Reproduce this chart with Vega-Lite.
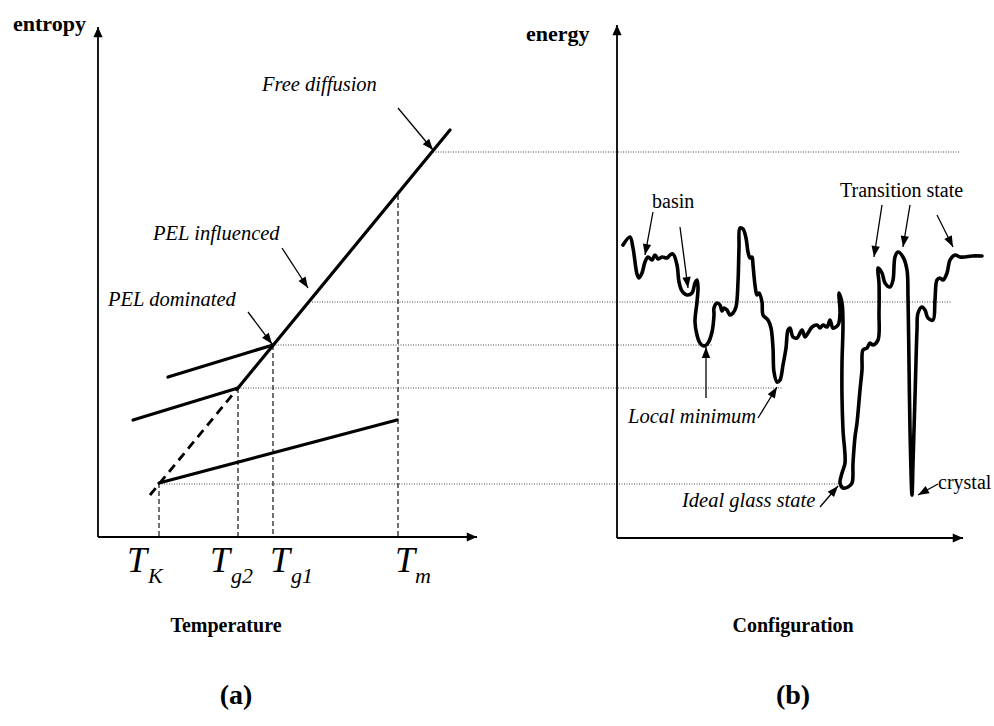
{
  "$schema": "https://vega.github.io/schema/vega-lite/v6.json",
  "width": 994,
  "height": 726,
  "autosize": {"type": "none"},
  "padding": 0,
  "background": "white",
  "config": {"view": {"stroke": null}},
  "datasets": {
    "axes": [
      {"x": 98, "y": 537, "x2": 98, "y2": 27},
      {"x": 98, "y": 537, "x2": 477, "y2": 537},
      {"x": 617, "y": 538, "x2": 617, "y2": 25},
      {"x": 617, "y": 538, "x2": 963, "y2": 538}
    ],
    "arrows": [
      {"x": 398, "y": 108, "x2": 433, "y2": 150},
      {"x": 282, "y": 248, "x2": 308, "y2": 288},
      {"x": 248, "y": 312, "x2": 272, "y2": 344},
      {"x": 653, "y": 212, "x2": 645, "y2": 255},
      {"x": 680, "y": 227, "x2": 688, "y2": 288},
      {"x": 706, "y": 398, "x2": 706, "y2": 347},
      {"x": 758, "y": 418, "x2": 777, "y2": 387},
      {"x": 820, "y": 507, "x2": 838, "y2": 486},
      {"x": 938, "y": 484, "x2": 918, "y2": 495},
      {"x": 882, "y": 205, "x2": 874, "y2": 257},
      {"x": 910, "y": 205, "x2": 903, "y2": 247},
      {"x": 937, "y": 215, "x2": 953, "y2": 247}
    ],
    "thick": [
      {"x": 238, "y": 388, "x2": 450, "y2": 130},
      {"x": 168, "y": 377, "x2": 273, "y2": 345},
      {"x": 133, "y": 420, "x2": 238, "y2": 388},
      {"x": 159, "y": 483, "x2": 397, "y2": 420}
    ],
    "thickDashed": [
      {"x": 150, "y": 495, "x2": 238, "y2": 388}
    ],
    "vdash": [
      {"x": 159, "y": 483, "x2": 159, "y2": 537},
      {"x": 238, "y": 388, "x2": 238, "y2": 537},
      {"x": 273, "y": 345, "x2": 273, "y2": 537},
      {"x": 398, "y": 195, "x2": 398, "y2": 537}
    ],
    "dotted": [
      {"x": 433, "y": 152, "x2": 960, "y2": 152},
      {"x": 312, "y": 302, "x2": 952, "y2": 302},
      {"x": 273, "y": 345, "x2": 712, "y2": 345},
      {"x": 238, "y": 388, "x2": 783, "y2": 388},
      {"x": 159, "y": 484, "x2": 838, "y2": 484}
    ],
    "curve": [
      {"i": 1, "x": 623, "y": 245}, {"i": 2, "x": 630, "y": 237}, {"i": 3, "x": 633, "y": 248},
      {"i": 4, "x": 637, "y": 274}, {"i": 5, "x": 639, "y": 278}, {"i": 6, "x": 642, "y": 273},
      {"i": 7, "x": 645, "y": 262}, {"i": 8, "x": 648, "y": 257}, {"i": 9, "x": 652, "y": 260},
      {"i": 10, "x": 655, "y": 255}, {"i": 11, "x": 658, "y": 259}, {"i": 12, "x": 662, "y": 257},
      {"i": 13, "x": 667, "y": 258}, {"i": 14, "x": 670, "y": 255}, {"i": 15, "x": 673, "y": 254},
      {"i": 16, "x": 677, "y": 265}, {"i": 17, "x": 679, "y": 282}, {"i": 18, "x": 682, "y": 291},
      {"i": 19, "x": 687, "y": 295}, {"i": 20, "x": 692, "y": 293}, {"i": 21, "x": 695, "y": 283},
      {"i": 22, "x": 697, "y": 280}, {"i": 23, "x": 698, "y": 287}, {"i": 24, "x": 697, "y": 302},
      {"i": 25, "x": 695, "y": 322}, {"i": 26, "x": 697, "y": 335}, {"i": 27, "x": 700, "y": 343},
      {"i": 28, "x": 704, "y": 346}, {"i": 29, "x": 708, "y": 343}, {"i": 30, "x": 712, "y": 332},
      {"i": 31, "x": 714, "y": 315}, {"i": 32, "x": 714, "y": 308}, {"i": 33, "x": 717, "y": 303},
      {"i": 34, "x": 720, "y": 305}, {"i": 35, "x": 722, "y": 311}, {"i": 36, "x": 724, "y": 308},
      {"i": 37, "x": 727, "y": 310}, {"i": 38, "x": 730, "y": 315}, {"i": 39, "x": 733, "y": 313},
      {"i": 40, "x": 736, "y": 307}, {"i": 41, "x": 738, "y": 282}, {"i": 42, "x": 739, "y": 248},
      {"i": 43, "x": 740, "y": 228}, {"i": 44, "x": 743, "y": 229}, {"i": 45, "x": 746, "y": 238},
      {"i": 46, "x": 748, "y": 252}, {"i": 47, "x": 750, "y": 258}, {"i": 48, "x": 752, "y": 257},
      {"i": 49, "x": 753, "y": 265}, {"i": 50, "x": 755, "y": 285}, {"i": 51, "x": 757, "y": 295},
      {"i": 52, "x": 759, "y": 293}, {"i": 53, "x": 762, "y": 302}, {"i": 54, "x": 763, "y": 315},
      {"i": 55, "x": 768, "y": 320}, {"i": 56, "x": 771, "y": 328}, {"i": 57, "x": 773, "y": 348},
      {"i": 58, "x": 774, "y": 372}, {"i": 59, "x": 777, "y": 382}, {"i": 60, "x": 780, "y": 380},
      {"i": 61, "x": 783, "y": 365}, {"i": 62, "x": 786, "y": 348}, {"i": 63, "x": 788, "y": 330},
      {"i": 64, "x": 790, "y": 328}, {"i": 65, "x": 793, "y": 337}, {"i": 66, "x": 797, "y": 338},
      {"i": 67, "x": 802, "y": 330}, {"i": 68, "x": 805, "y": 337}, {"i": 69, "x": 808, "y": 333},
      {"i": 70, "x": 812, "y": 327}, {"i": 71, "x": 817, "y": 325}, {"i": 72, "x": 820, "y": 328},
      {"i": 73, "x": 823, "y": 325}, {"i": 74, "x": 827, "y": 327}, {"i": 75, "x": 830, "y": 320},
      {"i": 76, "x": 833, "y": 328}, {"i": 77, "x": 838, "y": 325}, {"i": 78, "x": 840, "y": 313},
      {"i": 79, "x": 839, "y": 293}, {"i": 80, "x": 842, "y": 303}, {"i": 81, "x": 843, "y": 323},
      {"i": 82, "x": 842, "y": 363}, {"i": 83, "x": 842, "y": 397}, {"i": 84, "x": 843, "y": 430},
      {"i": 85, "x": 845, "y": 463}, {"i": 86, "x": 842, "y": 473}, {"i": 87, "x": 840, "y": 483},
      {"i": 88, "x": 843, "y": 488}, {"i": 89, "x": 848, "y": 487}, {"i": 90, "x": 852, "y": 483},
      {"i": 91, "x": 853, "y": 463}, {"i": 92, "x": 855, "y": 437}, {"i": 93, "x": 857, "y": 423},
      {"i": 94, "x": 860, "y": 390}, {"i": 95, "x": 862, "y": 370}, {"i": 96, "x": 863, "y": 350},
      {"i": 97, "x": 867, "y": 348}, {"i": 98, "x": 870, "y": 343}, {"i": 99, "x": 873, "y": 345},
      {"i": 100, "x": 878, "y": 340}, {"i": 101, "x": 879, "y": 313}, {"i": 102, "x": 879, "y": 283},
      {"i": 103, "x": 878, "y": 268}, {"i": 104, "x": 882, "y": 273}, {"i": 105, "x": 885, "y": 283},
      {"i": 106, "x": 890, "y": 287}, {"i": 107, "x": 893, "y": 280}, {"i": 108, "x": 895, "y": 257},
      {"i": 109, "x": 898, "y": 252}, {"i": 110, "x": 903, "y": 257}, {"i": 111, "x": 907, "y": 270},
      {"i": 112, "x": 908, "y": 297}, {"i": 113, "x": 909, "y": 363}, {"i": 114, "x": 910, "y": 430},
      {"i": 115, "x": 912, "y": 495}, {"i": 116, "x": 913, "y": 463}, {"i": 117, "x": 915, "y": 397},
      {"i": 118, "x": 917, "y": 330}, {"i": 119, "x": 918, "y": 313}, {"i": 120, "x": 922, "y": 307},
      {"i": 121, "x": 925, "y": 310}, {"i": 122, "x": 928, "y": 318}, {"i": 123, "x": 933, "y": 320},
      {"i": 124, "x": 935, "y": 300}, {"i": 125, "x": 937, "y": 280}, {"i": 126, "x": 940, "y": 278},
      {"i": 127, "x": 943, "y": 280}, {"i": 128, "x": 947, "y": 273}, {"i": 129, "x": 950, "y": 260},
      {"i": 130, "x": 955, "y": 255}, {"i": 131, "x": 960, "y": 257}, {"i": 132, "x": 965, "y": 257},
      {"i": 133, "x": 972, "y": 256}, {"i": 134, "x": 982, "y": 256}
    ],
    "boldLabels": [
      {"x": 13, "y": 31, "label": "entropy"},
      {"x": 526, "y": 41, "label": "energy"}
    ],
    "italicLabels": [
      {"x": 262, "y": 91, "label": "Free diffusion"},
      {"x": 153, "y": 240, "label": "PEL influenced"},
      {"x": 108, "y": 306, "label": "PEL dominated"},
      {"x": 628, "y": 423, "label": "Local minimum"},
      {"x": 682, "y": 507, "label": "Ideal glass state"}
    ],
    "romanLabels": [
      {"x": 652, "y": 208, "label": "basin"},
      {"x": 840, "y": 197, "label": "Transition state"},
      {"x": 938, "y": 489, "label": "crystal"}
    ],
    "titles": [
      {"x": 226, "y": 632, "label": "Temperature"},
      {"x": 793, "y": 632, "label": "Configuration"}
    ],
    "panels": [
      {"x": 236, "y": 704, "label": "(a)"},
      {"x": 793, "y": 704, "label": "(b)"}
    ],
    "tMain": [
      {"x": 127, "y": 572, "label": "T"},
      {"x": 210, "y": 572, "label": "T"},
      {"x": 270, "y": 572, "label": "T"},
      {"x": 395, "y": 572, "label": "T"}
    ],
    "tSub": [
      {"x": 148, "y": 583, "label": "K"},
      {"x": 231, "y": 583, "label": "g2"},
      {"x": 291, "y": 583, "label": "g1"},
      {"x": 415, "y": 583, "label": "m"}
    ]
  },
  "layer": [
    {
      "data": {"name": "dotted"},
      "mark": {"type": "rule", "color": "#444", "strokeWidth": 1, "strokeDash": [1, 1.5]},
      "encoding": {
        "x": {"field": "x", "type": "quantitative", "scale": {"domain": [0, 994], "nice": false, "zero": false}, "axis": null},
        "y": {"field": "y", "type": "quantitative", "scale": {"domain": [0, 726], "reverse": true, "nice": false, "zero": false}, "axis": null},
        "x2": {"field": "x2"},
        "y2": {"field": "y2"}
      }
    },
    {
      "data": {"name": "vdash"},
      "mark": {"type": "rule", "color": "#222", "strokeWidth": 1.3, "strokeDash": [5, 3]},
      "encoding": {
        "x": {"field": "x", "type": "quantitative", "scale": {"domain": [0, 994], "nice": false, "zero": false}, "axis": null},
        "y": {"field": "y", "type": "quantitative", "scale": {"domain": [0, 726], "reverse": true, "nice": false, "zero": false}, "axis": null},
        "x2": {"field": "x2"},
        "y2": {"field": "y2"}
      }
    },
    {
      "data": {"name": "thick"},
      "mark": {"type": "rule", "color": "black", "strokeWidth": 3.2, "strokeCap": "round"},
      "encoding": {
        "x": {"field": "x", "type": "quantitative", "scale": {"domain": [0, 994], "nice": false, "zero": false}, "axis": null},
        "y": {"field": "y", "type": "quantitative", "scale": {"domain": [0, 726], "reverse": true, "nice": false, "zero": false}, "axis": null},
        "x2": {"field": "x2"},
        "y2": {"field": "y2"}
      }
    },
    {
      "data": {"name": "thickDashed"},
      "mark": {"type": "rule", "color": "black", "strokeWidth": 2.8, "strokeDash": [9, 6]},
      "encoding": {
        "x": {"field": "x", "type": "quantitative", "scale": {"domain": [0, 994], "nice": false, "zero": false}, "axis": null},
        "y": {"field": "y", "type": "quantitative", "scale": {"domain": [0, 726], "reverse": true, "nice": false, "zero": false}, "axis": null},
        "x2": {"field": "x2"},
        "y2": {"field": "y2"}
      }
    },
    {
      "data": {"name": "axes"},
      "mark": {"type": "rule", "color": "black", "strokeWidth": 1.8},
      "encoding": {
        "x": {"field": "x", "type": "quantitative", "scale": {"domain": [0, 994], "nice": false, "zero": false}, "axis": null},
        "y": {"field": "y", "type": "quantitative", "scale": {"domain": [0, 726], "reverse": true, "nice": false, "zero": false}, "axis": null},
        "x2": {"field": "x2"},
        "y2": {"field": "y2"}
      }
    },
    {
      "data": {"name": "axes"},
      "transform": [{"calculate": "atan2(datum.x2 - datum.x, datum.y - datum.y2) * 180 / PI", "as": "angle"}],
      "mark": {"type": "point", "shape": "M0,0L-0.45,1L0.45,1Z", "filled": true, "opacity": 1, "color": "black", "size": 420},
      "encoding": {
        "x": {"field": "x2", "type": "quantitative", "scale": {"domain": [0, 994], "nice": false, "zero": false}, "axis": null},
        "y": {"field": "y2", "type": "quantitative", "scale": {"domain": [0, 726], "reverse": true, "nice": false, "zero": false}, "axis": null},
        "angle": {"field": "angle", "type": "quantitative", "scale": null}
      }
    },
    {
      "data": {"name": "arrows"},
      "mark": {"type": "rule", "color": "black", "strokeWidth": 1.3},
      "encoding": {
        "x": {"field": "x", "type": "quantitative", "scale": {"domain": [0, 994], "nice": false, "zero": false}, "axis": null},
        "y": {"field": "y", "type": "quantitative", "scale": {"domain": [0, 726], "reverse": true, "nice": false, "zero": false}, "axis": null},
        "x2": {"field": "x2"},
        "y2": {"field": "y2"}
      }
    },
    {
      "data": {"name": "arrows"},
      "transform": [{"calculate": "atan2(datum.x2 - datum.x, datum.y - datum.y2) * 180 / PI", "as": "angle"}],
      "mark": {"type": "point", "shape": "M0,0L-0.38,1L0.38,1Z", "filled": true, "opacity": 1, "color": "black", "size": 484},
      "encoding": {
        "x": {"field": "x2", "type": "quantitative", "scale": {"domain": [0, 994], "nice": false, "zero": false}, "axis": null},
        "y": {"field": "y2", "type": "quantitative", "scale": {"domain": [0, 726], "reverse": true, "nice": false, "zero": false}, "axis": null},
        "angle": {"field": "angle", "type": "quantitative", "scale": null}
      }
    },
    {
      "data": {"name": "curve"},
      "mark": {"type": "line", "color": "black", "strokeWidth": 3.6, "strokeJoin": "round", "strokeCap": "round", "interpolate": "catmull-rom"},
      "encoding": {
        "x": {"field": "x", "type": "quantitative", "scale": {"domain": [0, 994], "nice": false, "zero": false}, "axis": null},
        "y": {"field": "y", "type": "quantitative", "scale": {"domain": [0, 726], "reverse": true, "nice": false, "zero": false}, "axis": null},
        "order": {"field": "i", "type": "quantitative"}
      }
    },
    {
      "data": {"name": "boldLabels"},
      "mark": {"type": "text", "font": "Liberation Serif", "fontWeight": "bold", "fontSize": 22, "align": "left", "baseline": "alphabetic", "color": "black"},
      "encoding": {
        "x": {"field": "x", "type": "quantitative", "scale": {"domain": [0, 994], "nice": false, "zero": false}, "axis": null},
        "y": {"field": "y", "type": "quantitative", "scale": {"domain": [0, 726], "reverse": true, "nice": false, "zero": false}, "axis": null},
        "text": {"field": "label"}
      }
    },
    {
      "data": {"name": "italicLabels"},
      "mark": {"type": "text", "font": "Liberation Serif", "fontStyle": "italic", "fontSize": 20.5, "align": "left", "baseline": "alphabetic", "color": "black"},
      "encoding": {
        "x": {"field": "x", "type": "quantitative", "scale": {"domain": [0, 994], "nice": false, "zero": false}, "axis": null},
        "y": {"field": "y", "type": "quantitative", "scale": {"domain": [0, 726], "reverse": true, "nice": false, "zero": false}, "axis": null},
        "text": {"field": "label"}
      }
    },
    {
      "data": {"name": "romanLabels"},
      "mark": {"type": "text", "font": "Liberation Serif", "fontSize": 20, "align": "left", "baseline": "alphabetic", "color": "black"},
      "encoding": {
        "x": {"field": "x", "type": "quantitative", "scale": {"domain": [0, 994], "nice": false, "zero": false}, "axis": null},
        "y": {"field": "y", "type": "quantitative", "scale": {"domain": [0, 726], "reverse": true, "nice": false, "zero": false}, "axis": null},
        "text": {"field": "label"}
      }
    },
    {
      "data": {"name": "titles"},
      "mark": {"type": "text", "font": "Liberation Serif", "fontWeight": "bold", "fontSize": 20, "align": "center", "baseline": "alphabetic", "color": "black"},
      "encoding": {
        "x": {"field": "x", "type": "quantitative", "scale": {"domain": [0, 994], "nice": false, "zero": false}, "axis": null},
        "y": {"field": "y", "type": "quantitative", "scale": {"domain": [0, 726], "reverse": true, "nice": false, "zero": false}, "axis": null},
        "text": {"field": "label"}
      }
    },
    {
      "data": {"name": "panels"},
      "mark": {"type": "text", "font": "Liberation Serif", "fontWeight": "bold", "fontSize": 28, "align": "center", "baseline": "alphabetic", "color": "black"},
      "encoding": {
        "x": {"field": "x", "type": "quantitative", "scale": {"domain": [0, 994], "nice": false, "zero": false}, "axis": null},
        "y": {"field": "y", "type": "quantitative", "scale": {"domain": [0, 726], "reverse": true, "nice": false, "zero": false}, "axis": null},
        "text": {"field": "label"}
      }
    },
    {
      "data": {"name": "tMain"},
      "mark": {"type": "text", "font": "Liberation Serif", "fontStyle": "italic", "fontSize": 36, "align": "left", "baseline": "alphabetic", "color": "black"},
      "encoding": {
        "x": {"field": "x", "type": "quantitative", "scale": {"domain": [0, 994], "nice": false, "zero": false}, "axis": null},
        "y": {"field": "y", "type": "quantitative", "scale": {"domain": [0, 726], "reverse": true, "nice": false, "zero": false}, "axis": null},
        "text": {"field": "label"}
      }
    },
    {
      "data": {"name": "tSub"},
      "mark": {"type": "text", "font": "Liberation Serif", "fontStyle": "italic", "fontSize": 22, "align": "left", "baseline": "alphabetic", "color": "black"},
      "encoding": {
        "x": {"field": "x", "type": "quantitative", "scale": {"domain": [0, 994], "nice": false, "zero": false}, "axis": null},
        "y": {"field": "y", "type": "quantitative", "scale": {"domain": [0, 726], "reverse": true, "nice": false, "zero": false}, "axis": null},
        "text": {"field": "label"}
      }
    }
  ]
}
